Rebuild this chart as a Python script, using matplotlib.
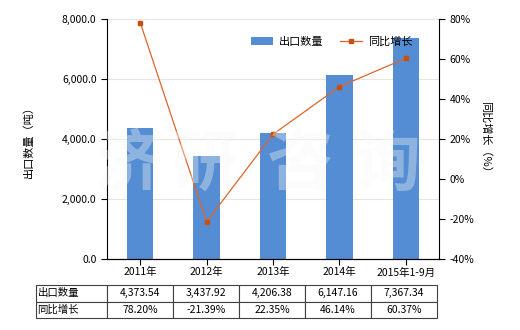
import matplotlib
matplotlib.use("Agg")
import matplotlib.pyplot as plt
from matplotlib.ticker import FuncFormatter

plt.rcParams['font.family'] = ['Noto Sans CJK SC', 'DejaVu Sans']

categories = ["2011年", "2012年", "2013年", "2014年", "2015年1-9月"]
export_qty = [4373.54, 3437.92, 4206.38, 6147.16, 7367.34]
growth = [78.20, -21.39, 22.35, 46.14, 60.37]
row_labels = ["出口数量", "同比增长"]
qty_label = "出口数量（吨）"
growth_label = "同比增长（%）"

bar_color = "#548dd4"
line_color = "#e0642a"
marker_color = "#c8500e"

fig = plt.figure(figsize=(5.2, 3.3), dpi=100)
ax = fig.add_axes([107/520, 71/330, 332/520, 240/330])
x = list(range(len(categories)))
bars = ax.bar(x, export_qty, width=0.4, color=bar_color, label="出口数量", zorder=2)
ax.set_ylim(0, 8000)
ax.set_xlim(-0.5, len(categories) - 0.5)
ax.set_yticks([0, 2000, 4000, 6000, 8000])
ax.yaxis.set_major_formatter(FuncFormatter(lambda v, p: f"{v:,.1f}"))
ax.set_xticks(x)
ax.set_xticklabels(categories, fontsize=7.5)
ax.tick_params(axis='y', labelsize=7.5, length=4, width=0.8)
ax.tick_params(axis='x', length=4, width=0.8, pad=2)
ax.grid(axis='y', color='#e6e6dc', linewidth=0.8, zorder=0)
ax.set_axisbelow(True)
ax.spines['top'].set_visible(False)
ax.spines['right'].set_visible(False)
ax.set_ylabel(qty_label, fontsize=8, labelpad=20)

ax2 = ax.twinx()
line, = ax2.plot(x, growth, color=line_color, linewidth=0.9, marker='s', markersize=3.5,
                 markerfacecolor=marker_color, markeredgecolor=marker_color, label="同比增长", zorder=3)
ax2.set_ylim(-40, 80)
ax2.set_yticks([-40, -20, 0, 20, 40, 60, 80])
ax2.yaxis.set_major_formatter(FuncFormatter(lambda v, p: f"{v:.0f}%"))
ax2.tick_params(axis='y', labelsize=7.5, length=4, width=0.8)
ax2.spines['top'].set_visible(False)
ax2.spines['left'].set_visible(False)
ax2.set_ylabel(growth_label, fontsize=8, rotation=270, labelpad=12)

# watermark
for cx, ch in zip([128, 205, 300, 387], "济研咨询"):
    fig.text(cx/520, 1 - 165/330, ch, fontsize=48, color=(0.96, 0.975, 0.96), alpha=0.36,
             ha='center', va='center', fontweight='bold', zorder=10)

handles = [bars, line]
ax2.legend(handles, ["出口数量", "同比增长"], loc='upper right', bbox_to_anchor=(0.95, 0.97),
           ncol=2, frameon=False, fontsize=8, handlelength=2.0, columnspacing=1.5,
           handletextpad=0.5)

# table
tax = fig.add_axes([36/520, 12/330, 401/520, 33/330])
tax.axis('off')
cell_text = [[row_labels[0]] + [f"{v:,.2f}" for v in export_qty],
             [row_labels[1]] + [f"{v:.2f}%" for v in growth]]
colw = [71] + [66] * len(categories)
tot = sum(colw)
tbl = tax.table(cellText=cell_text, colWidths=[c/tot for c in colw], bbox=[0, 0, 1, 1],
                cellLoc='center')
tbl.auto_set_font_size(False)
tbl.set_fontsize(7.5)
for (r, c), cell in tbl.get_celld().items():
    cell.set_edgecolor('#404040')
    cell.set_linewidth(0.8)
    if c == 0:
        cell.get_text().set_ha('left')
        cell.PAD = 0.02

fig.savefig("out.png", dpi=100)
